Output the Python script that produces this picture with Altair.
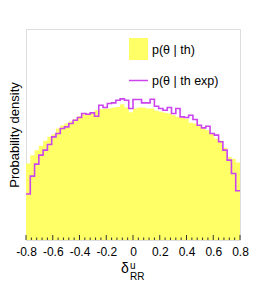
import altair as alt
import pandas as pd

# ---- data ----
bin_lo = -0.8
bin_w = 0.032
n_bins = 50
th_vals = [2.30, 2.55, 2.70, 2.83, 2.98, 3.10, 3.18, 3.35, 3.44, 3.50,
           3.57, 3.63, 3.72, 3.78, 3.80, 3.84, 3.90, 3.93, 3.94, 3.95,
           3.98, 4.00, 4.08, 3.98, 3.84, 3.95, 3.98, 3.98, 3.95, 3.95,
           3.88, 3.85, 3.82, 3.80, 3.75, 3.70, 3.68, 3.64, 3.52, 3.50,
           3.42, 3.35, 3.30, 3.20, 3.05, 2.98, 2.77, 2.50, 2.44, 2.33]
exp_vals = [1.38, 1.92, 2.28, 2.55, 2.70, 2.87, 3.10, 3.20, 3.35, 3.40,
            3.50, 3.60, 3.68, 3.80, 3.78, 3.82, 3.72, 4.05, 3.98, 4.10,
            4.12, 4.20, 4.24, 4.20, 3.95, 4.22, 4.22, 4.12, 4.12, 4.23,
            4.02, 3.95, 3.90, 3.98, 3.80, 3.95, 3.70, 3.68, 3.75, 3.62,
            3.45, 3.37, 3.42, 3.20, 3.15, 2.95, 2.70, 2.40, 2.00, 1.48]
major_ticks = [-0.8, -0.6, -0.4, -0.2, 0.0, 0.2, 0.4, 0.6, 0.8]
minor_ticks = [-0.76, -0.72, -0.68, -0.64, -0.56, -0.52, -0.48, -0.44,
               -0.36, -0.32, -0.28, -0.24, -0.16, -0.12, -0.08, -0.04,
               0.04, 0.08, 0.12, 0.16, 0.24, 0.28, 0.32, 0.36,
               0.44, 0.48, 0.52, 0.56, 0.64, 0.68, 0.72, 0.76]
legend_labels = ["p(θ | th)", "p(θ | th exp)"]
y_title = "Probability density"

edges = [round(bin_lo + bin_w * i, 4) for i in range(n_bins + 1)]
df = pd.DataFrame({
    "x": edges,
    "th": th_vals + [th_vals[-1]],
    "exp": exp_vals + [exp_vals[-1]],
})
df_major = pd.DataFrame({"x": major_ticks})
df_minor = pd.DataFrame({"x": minor_ticks})
one = pd.DataFrame({"k": [0]})

W, H = 214, 211
FONT = "Liberation Sans"
YEL = "#ffff66"
MAG = "#cc44ee"

xs = alt.Scale(domain=[-0.8, 0.8], nice=False, zero=False)
ys = alt.Scale(domain=[0, 6.34], nice=False, zero=True)

label_expr = ("datum.value == 0 ? '0' : (datum.value < 0 ? '-' + format(-datum.value, '.1f') "
              ": format(datum.value, '.1f'))")

xa = alt.Axis(values=major_ticks, labelExpr=label_expr, title=None, ticks=False, tickSize=0,
              domain=False, grid=False, labelFontSize=12, labelFont=FONT, labelColor="black",
              labelPadding=6, labelFlush=False, labelOverlap=False, labelSeparation=0)
ya = alt.Axis(title=y_title, labels=False, ticks=False, domain=False, grid=False,
              titleFontSize=13, titleFont=FONT, titleFontWeight="normal", titleColor="black",
              titleAngle=270, titleAlign="center", titleBaseline="alphabetic",
              titleX=-8, titleY=105.5)

area = alt.Chart(df).mark_area(interpolate="step-after", color=YEL, opacity=1).encode(
    x=alt.X("x:Q", scale=xs, axis=xa),
    y=alt.Y("th:Q", scale=ys, axis=ya),
)

line = alt.Chart(df).mark_line(interpolate="step-after", color=MAG, strokeWidth=1.6).encode(
    x=alt.X("x:Q", scale=xs, axis=xa),
    y=alt.Y("exp:Q", scale=ys, axis=ya),
)

maj = alt.Chart(df_major).mark_rule(color="#333333", strokeWidth=1).encode(
    x=alt.X("x:Q", scale=xs, axis=xa), y=alt.value(H), y2=alt.value(H - 5))
mnr = alt.Chart(df_minor).mark_rule(color="#333333", strokeWidth=1).encode(
    x=alt.X("x:Q", scale=xs, axis=xa), y=alt.value(H), y2=alt.value(H - 2.5))

leg_box = alt.Chart(one).mark_rect(color=YEL).encode(
    x=alt.value(103), x2=alt.value(122), y=alt.value(9), y2=alt.value(31))
leg_line = alt.Chart(one).mark_rule(color=MAG, strokeWidth=1.5).encode(
    x=alt.value(103), x2=alt.value(122), y=alt.value(51.5))
leg_t1 = alt.Chart(one).mark_text(text=legend_labels[0], align="left", baseline="middle",
                                  font=FONT, fontSize=12.5, color="black").encode(
    x=alt.value(126), y=alt.value(21))
leg_t2 = alt.Chart(one).mark_text(text=legend_labels[1], align="left", baseline="middle",
                                  font=FONT, fontSize=12.5, color="black").encode(
    x=alt.value(126), y=alt.value(51.5))

xt_d = alt.Chart(one).mark_text(text="δ", align="center", baseline="middle",
                                font=FONT, fontSize=14, color="black").encode(
    x=alt.value(99), y=alt.value(240))
xt_u = alt.Chart(one).mark_text(text="u", align="left", baseline="middle",
                                font=FONT, fontSize=10, color="black").encode(
    x=alt.value(104), y=alt.value(237))
xt_rr = alt.Chart(one).mark_text(text="RR", align="left", baseline="middle",
                                 font=FONT, fontSize=10, color="black").encode(
    x=alt.value(104), y=alt.value(248))

chart = alt.layer(area, line, maj, mnr, leg_box, leg_line, leg_t1, leg_t2,
                  xt_d, xt_u, xt_rr).properties(
    width=W, height=H,
    autosize=alt.AutoSizeParams(type="none"),
    padding={"left": 18, "top": 21, "right": 18, "bottom": 43},
).configure_view(stroke="#777777", strokeWidth=1).configure_axis(
    labelOverlap=False).configure(font=FONT)

chart.save("out.html", embed_options={"renderer": "svg", "actions": False})
